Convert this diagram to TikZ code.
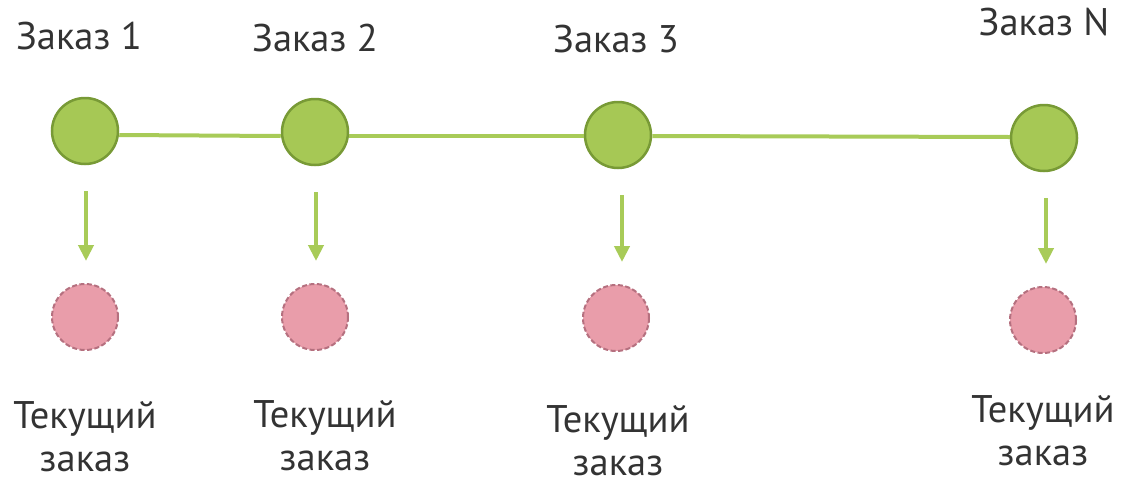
\documentclass[tikz,border=0pt]{standalone}
\usepackage{fontspec}
\setmainfont{PT Sans}
\usetikzlibrary{arrows.meta}
\definecolor{gfill}{HTML}{A6C855}
\definecolor{gdraw}{HTML}{789A36}
\definecolor{gline}{HTML}{A8CB58}
\definecolor{pfill}{HTML}{E99DAA}
\definecolor{pdraw}{HTML}{B5707F}
\definecolor{txt}{HTML}{333333}
\tikzset{
  order/.style={circle, minimum size=66pt, inner sep=0pt, fill=gfill, draw=gdraw, line width=2.5pt},
  current/.style={circle, minimum size=66pt, inner sep=0pt, fill=pfill, draw=pdraw, line width=2pt, dash pattern=on 5pt off 2.5pt},
  toplbl/.style={anchor=base, inner sep=0pt, text=txt, font=\fontsize{38.5pt}{44pt}\selectfont},
  botlbl/.style={anchor=north, inner sep=0pt, align=center, text=txt, font=\fontsize{38.5pt}{43pt}\selectfont},
  link/.style={draw=gline, line width=4pt},
  down/.style={draw=gline, line width=4.5pt, -{Triangle[width=15pt,length=16pt]}, shorten <=26pt, shorten >=22pt}
}
\begin{document}
\begin{tikzpicture}[x=1pt,y=-1pt]
\useasboundingbox (0,0) rectangle (1121,480);
\node[order] (g1) at (85,131) {};
\node[order] (g2) at (315,132) {};
\node[order] (g3) at (618,135) {};
\node[order] (g4) at (1044,138) {};
\draw[link] ([yshift=-4pt]g1.east) -- ([yshift=-4pt]g2.west);
\draw[link] ([yshift=-4pt]g2.east) -- ([yshift=-1pt]g3.west);
\draw[link] ([yshift=-1pt]g3.east) -- ([yshift=1pt]g4.west);
\node[current] (p1) at (85,317) {};
\node[current] (p2) at (315,317) {};
\node[current] (p3) at (616,318) {};
\node[current] (p4) at (1043,320) {};
\draw[down] ([xshift=1pt]g1.south) -- ([xshift=1pt]g1.south|-p1.north);
\draw[down] ([xshift=1pt]g2.south) -- ([xshift=1pt]g2.south|-p2.north);
\draw[down] ([xshift=4pt]g3.south) -- ([xshift=4pt]g3.south|-p3.north);
\draw[down] ([xshift=2pt]g4.south) -- ([xshift=2pt]g4.south|-p4.north);
\node[toplbl] (t1) at (79,49) {Заказ 1};
\node[toplbl] (t2) at (315,51) {Заказ 2};
\node[toplbl] (t3) at (616,52) {Заказ 3};
\node[toplbl] (t4) at (1044,35) {Заказ N};
\node[botlbl] (b1) at (85,401) {Текущий\\заказ};
\node[botlbl] (b2) at (325,400) {Текущий\\заказ};
\node[botlbl] (b3) at (618,405) {Текущий\\заказ};
\node[botlbl] (b4) at (1043,395) {Текущий\\заказ};
\end{tikzpicture}
\end{document}
